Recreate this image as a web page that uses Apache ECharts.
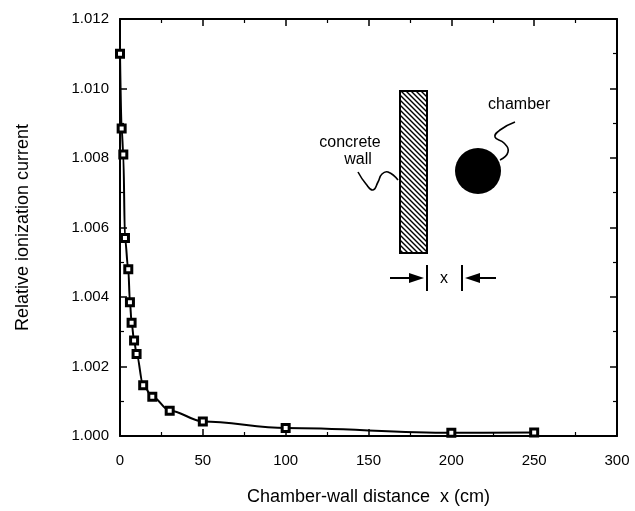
<!DOCTYPE html>
<html>
<head>
<meta charset="utf-8">
<script src="https://cdn.jsdelivr.net/npm/echarts@6.0.0/dist/echarts.min.js"></script>
<style>
  html, body { margin: 0; padding: 0; background: #fff; }
  #chart { width: 635px; height: 511px; }
</style>
</head>
<body>
<div id="chart"></div>
<script>
// ---- data ----
const distances = [0, 1, 2, 3, 5, 6, 7, 8.5, 10, 14, 19.5, 30, 50, 100, 200, 250];
const currents  = [1.0110, 1.00885, 1.0081, 1.0057, 1.0048, 1.00385, 1.00326, 1.00275, 1.00236, 1.00146, 1.00113, 1.00073, 1.00042, 1.00023, 1.00009, 1.00010];
const xTitle = 'Chamber-wall distance  x (cm)';
const yTitle = 'Relative ionization current';
const insetLabels = { wall1: 'concrete', wall2: 'wall', chamber: 'chamber', x: 'x' };

const points = distances.map((d, i) => [d, currents[i]]);

// hatch pattern for the wall
const hc = document.createElement('canvas');
hc.width = 5; hc.height = 5;
const hx = hc.getContext('2d');
hx.fillStyle = '#fff'; hx.fillRect(0, 0, 5, 5);
hx.strokeStyle = '#000'; hx.lineWidth = 1.4;
hx.beginPath();
hx.moveTo(-1, -1); hx.lineTo(6, 6);
hx.moveTo(-1, 4); hx.lineTo(1, 6);
hx.moveTo(4, -1); hx.lineTo(6, 1);
hx.stroke();

const FONT = '"Liberation Sans", Arial, Helvetica, sans-serif';
const chart = echarts.init(document.getElementById('chart'), null, { renderer: 'canvas' });

const axisCommon = {
  axisLine: { show: true, onZero: false, lineStyle: { color: '#000', width: 2 } },
  axisTick: { show: true, inside: true, length: 7, lineStyle: { color: '#000', width: 1.5 } },
  minorTick: { show: true, splitNumber: 2, length: 4, lineStyle: { color: '#000', width: 1.2 } },
  splitLine: { show: false },
  minorSplitLine: { show: false }
};

const option = {
  backgroundColor: '#fff',
  animation: false,
  grid: { left: 120, right: 18, top: 19, bottom: 66 },
  xAxis: [
    Object.assign({
      type: 'value', min: 0, max: 300, interval: 50, position: 'bottom',
      name: xTitle, nameLocation: 'middle', nameGap: 52,
      nameTextStyle: { color: '#000', fontSize: 18, fontFamily: FONT },
      axisLabel: { color: '#000', fontSize: 15, fontFamily: FONT, margin: 17 }
    }, axisCommon),
    Object.assign({
      type: 'value', min: 0, max: 300, interval: 50, position: 'top',
      axisLabel: { show: false }
    }, axisCommon)
  ],
  yAxis: [
    Object.assign({
      type: 'value', min: 1.000, max: 1.012, interval: 0.002, position: 'left',
      name: yTitle, nameLocation: 'middle', nameGap: 88,
      nameTextStyle: { color: '#000', fontSize: 18, fontFamily: FONT },
      axisLabel: { color: '#000', fontSize: 15, fontFamily: FONT, margin: 11,
        formatter: v => v.toFixed(3) }
    }, axisCommon),
    Object.assign({
      type: 'value', min: 1.000, max: 1.012, interval: 0.002, position: 'right',
      axisLabel: { show: false }
    }, axisCommon)
  ],
  series: [{
    type: 'line',
    data: points,
    smooth: 0.35,
    smoothMonotone: 'x',
    symbol: 'rect',
    symbolSize: 7,
    itemStyle: { color: '#fff', borderColor: '#000', borderWidth: 3 },
    lineStyle: { color: '#000', width: 2 },
    z: 5
  }],
  graphic: [
    // wall
    { type: 'rect', shape: { x: 400, y: 91, width: 27, height: 162 },
      style: { fill: { image: hc, repeat: 'repeat' }, stroke: '#000', lineWidth: 2 } },
    // chamber
    { type: 'circle', shape: { cx: 478, cy: 171, r: 23 }, style: { fill: '#000' } },
    // labels
    { type: 'text', style: { text: insetLabels.wall1, x: 350, y: 143, font: '16px ' + FONT, fill: '#000', textAlign: 'center', textVerticalAlign: 'middle' } },
    { type: 'text', style: { text: insetLabels.wall2, x: 358, y: 160, font: '16px ' + FONT, fill: '#000', textAlign: 'center', textVerticalAlign: 'middle' } },
    { type: 'text', style: { text: insetLabels.chamber, x: 488, y: 105, font: '16px ' + FONT, fill: '#000', textAlign: 'left', textVerticalAlign: 'middle' } },
    { type: 'text', style: { text: insetLabels.x, x: 444, y: 279, font: '16px ' + FONT, fill: '#000', textAlign: 'center', textVerticalAlign: 'middle' } },
    // squiggle leaders
    { type: 'polyline', shape: { points: [[358, 172], [366, 184], [373, 190], [378, 182], [382, 174], [388, 172], [398, 180]], smooth: 0.5 },
      style: { stroke: '#000', lineWidth: 1.6, fill: null } },
    { type: 'polyline', shape: { points: [[515, 122], [500, 130], [495, 137], [504, 143], [508, 152], [500, 160]], smooth: 0.5 },
      style: { stroke: '#000', lineWidth: 1.6, fill: null } },
    // distance marker
    { type: 'line', shape: { x1: 427, y1: 265, x2: 427, y2: 291 }, style: { stroke: '#000', lineWidth: 2 } },
    { type: 'line', shape: { x1: 462, y1: 265, x2: 462, y2: 291 }, style: { stroke: '#000', lineWidth: 2 } },
    { type: 'line', shape: { x1: 390, y1: 278, x2: 412, y2: 278 }, style: { stroke: '#000', lineWidth: 2 } },
    { type: 'polygon', shape: { points: [[424, 278], [409, 273], [409, 283]] }, style: { fill: '#000' } },
    { type: 'line', shape: { x1: 477, y1: 278, x2: 496, y2: 278 }, style: { stroke: '#000', lineWidth: 2 } },
    { type: 'polygon', shape: { points: [[465, 278], [480, 273], [480, 283]] }, style: { fill: '#000' } }
  ]
};
chart.setOption(option);
</script>
</body>
</html>
